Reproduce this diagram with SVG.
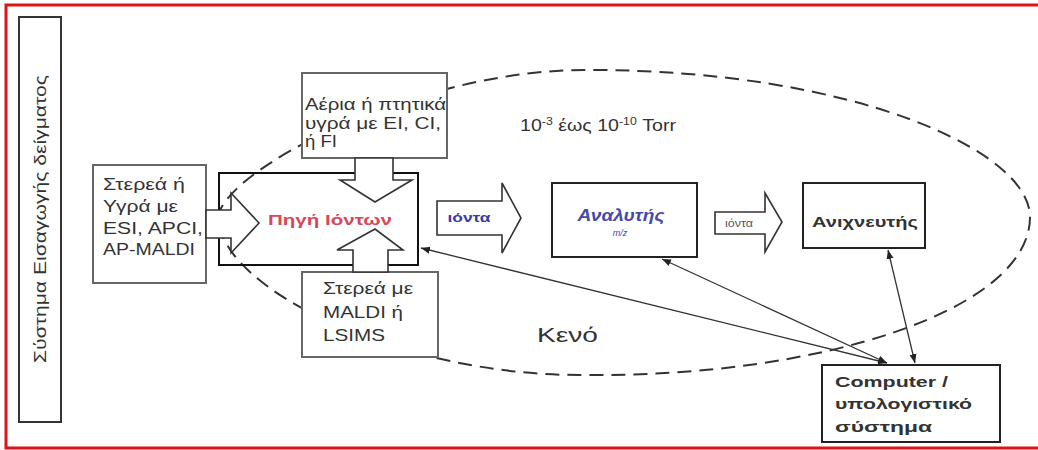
<svg xmlns="http://www.w3.org/2000/svg" width="1038" height="450" viewBox="0 0 1038 450">
<defs>
<style>
text{font-family:"Liberation Sans",Arial,"DejaVu Sans",sans-serif;fill:#333}
.in{fill:#fff;stroke:#666;stroke-width:2}
.bx{fill:#fff;stroke:#222;stroke-width:2}
.blk{fill:#fff;stroke:#333;stroke-width:1.6;stroke-linejoin:miter}
.t17{font-size:17px}
.t16{font-size:16px}
.b{font-weight:bold}
.cn{fill:none;stroke:#333;stroke-width:1.3}
</style>
<marker id="ah" viewBox="0 0 10 10" refX="10" refY="5" markerWidth="9" markerHeight="9" markerUnits="userSpaceOnUse" orient="auto-start-reverse">
<path d="M0,1 L10,5 L0,9 Z" fill="#222"/>
</marker>
</defs>
<rect width="1038" height="450" fill="#fff"/>
<path d="M1038,5 L6,5 L6,448 L1038,448" fill="none" stroke="#dd1515" stroke-width="3"/>

<g id="sample-system">
<rect x="19" y="17" width="42" height="405" fill="#fff" stroke="#333" stroke-width="2"/>
<text class="t17" transform="translate(46,219) rotate(-90)" text-anchor="middle" textLength="288" lengthAdjust="spacingAndGlyphs">Σύστημα Εισαγωγής δείγματος</text>
</g>

<g id="vacuum">
<path d="M218,218 C222,170 420,68 590,70 C850,70 1030,150 1030,217 C1030,310 820,378 580,375 C400,375 222,290 218,218 Z" fill="none" stroke="#333" stroke-width="2" stroke-dasharray="14 8"/>
<text x="537" y="342" font-size="21" textLength="61" lengthAdjust="spacingAndGlyphs">Κενό</text>
<text x="520" y="131" font-size="16" textLength="156" lengthAdjust="spacingAndGlyphs">10<tspan font-size="10" dy="-6">-3</tspan><tspan dy="6"> έως 10</tspan><tspan font-size="10" dy="-6">-10</tspan><tspan dy="6"> Torr</tspan></text>
</g>

<g id="ion-source">
<rect x="219" y="173" width="199" height="92" fill="none" stroke="#111" stroke-width="2"/>
</g>

<g id="input-liquid">
<rect class="in" x="93" y="165" width="113" height="118"/>
<polygon class="blk" points="206,210 231,210 231,193 259,223 231,253 231,238 206,238"/>
<text class="t17" x="103" y="190" textLength="82" lengthAdjust="spacingAndGlyphs">Στερεά ή</text>
<text class="t17" x="103" y="212" textLength="75" lengthAdjust="spacingAndGlyphs">Υγρά με</text>
<text class="t17" x="103" y="234" textLength="100" lengthAdjust="spacingAndGlyphs">ESI, APCI,</text>
<text class="t17" x="103" y="255" textLength="92" lengthAdjust="spacingAndGlyphs">AP-MALDI</text>
</g>

<g id="input-gas">
<rect class="in" x="302" y="73" width="145" height="85"/>
<polygon class="blk" points="355,158 355,180 340,180 375,202 412,180 393,180 393,158"/>
<text class="t16" x="305" y="110" textLength="141" lengthAdjust="spacingAndGlyphs">Αέρια ή πτητικά</text>
<text class="t16" x="305" y="129" textLength="136" lengthAdjust="spacingAndGlyphs">υγρά με EI, CI,</text>
<text class="t16" x="305" y="147" textLength="32" lengthAdjust="spacingAndGlyphs">ή FI</text>
</g>

<g id="input-solid">
<rect class="in" x="302" y="272" width="136" height="85"/>
<polygon class="blk" points="353,272 353,250 337,250 375,229 403,250 388,250 388,272"/>
<text class="t17" x="323" y="294" textLength="90" lengthAdjust="spacingAndGlyphs">Στερεά με</text>
<text class="t17" x="323" y="318" textLength="80" lengthAdjust="spacingAndGlyphs">MALDI ή</text>
<text class="t17" x="323" y="341" textLength="62" lengthAdjust="spacingAndGlyphs">LSIMS</text>
</g>

<g id="ion-source-label">
<text x="330" y="225" text-anchor="middle" font-size="15" class="b" style="fill:#d6485a" textLength="124" lengthAdjust="spacingAndGlyphs">Πηγή Ιόντων</text>
</g>

<g id="ions-arrow-1">
<polygon class="blk" points="437,201 502,201 502,183 521,218 502,253 502,235 437,235"/>
<text x="469" y="222" text-anchor="middle" font-size="13" class="b" style="fill:#3a3aa8" textLength="43" lengthAdjust="spacingAndGlyphs">ιόντα</text>
</g>

<g id="analyzer">
<rect class="bx" x="552" y="183" width="145" height="74"/>
<text x="621" y="221" text-anchor="middle" font-size="16" font-style="italic" class="b" style="fill:#4848a8" textLength="87" lengthAdjust="spacingAndGlyphs">Αναλυτής</text>
<text x="620" y="236" text-anchor="middle" font-size="9" font-style="italic" style="fill:#4848a8">m/z</text>
</g>

<g id="ions-arrow-2">
<polygon class="blk" points="715,212 765,212 765,193 782,222 765,252 765,234 715,234"/>
<text x="739" y="227" text-anchor="middle" font-size="10" style="fill:#555" textLength="28" lengthAdjust="spacingAndGlyphs">ιόντα</text>
</g>

<g id="detector">
<rect class="bx" x="803" y="183" width="122" height="65"/>
<text x="865" y="227" text-anchor="middle" font-size="15" class="b" textLength="106" lengthAdjust="spacingAndGlyphs">Ανιχνευτής</text>
</g>

<g id="computer">
<rect class="bx" x="822" y="365" width="178" height="77"/>
<text x="835" y="387" font-size="15" class="b" textLength="113" lengthAdjust="spacingAndGlyphs">Computer /</text>
<text x="835" y="409" font-size="15" class="b" textLength="137" lengthAdjust="spacingAndGlyphs">υπολογιστικό</text>
<text x="835" y="432" font-size="15" class="b" textLength="97" lengthAdjust="spacingAndGlyphs">σύστημα</text>
</g>

<g id="connectors">
<line class="cn" x1="887" y1="363" x2="421" y2="248" marker-start="url(#ah)" marker-end="url(#ah)"/>
<line class="cn" x1="887" y1="363" x2="662" y2="259" marker-start="url(#ah)" marker-end="url(#ah)"/>
<line class="cn" x1="915" y1="363" x2="888" y2="250" marker-start="url(#ah)" marker-end="url(#ah)"/>
</g>
</svg>
